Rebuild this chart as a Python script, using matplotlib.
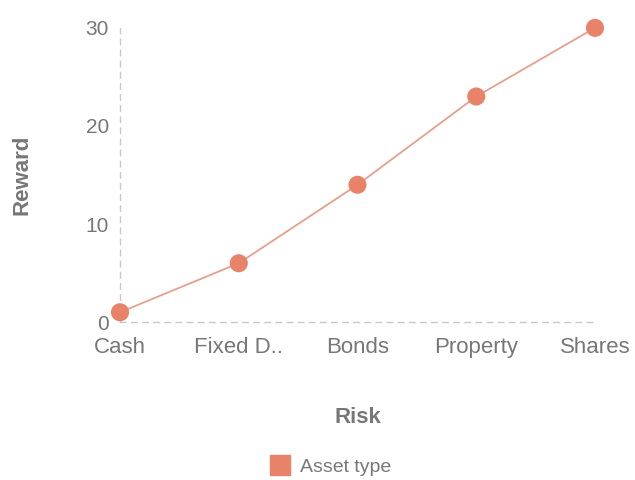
import matplotlib.pyplot as plt
from matplotlib.lines import Line2D

# Risk vs reward by asset type
assets = ['Cash', 'Fixed D..', 'Bonds', 'Property', 'Shares']
reward = [1, 6, 14, 23, 30]
y_ticks = [0, 10, 20, 30]

plt.rcParams['font.family'] = ['Liberation Sans', 'DejaVu Sans']
grey = '#777777'
line_col = '#e5a08c'
dot_col = '#e8836a'

fig = plt.figure(figsize=(6.35, 4.8), dpi=100)
ax = fig.add_axes([0.189, 0.329, 0.748, 0.613])

x = range(len(assets))
ax.plot(x, reward, color=line_col, lw=1.3, zorder=2, clip_on=False)
ax.scatter(x, reward, s=170, color=dot_col, zorder=3, clip_on=False, edgecolors='none')

ax.set_xlim(0, len(assets) - 1)
ax.set_ylim(0, 30)
ax.set_xticks(list(x))
ax.set_xticklabels(assets)
ax.set_yticks(y_ticks)

for s in ['top', 'right']:
    ax.spines[s].set_visible(False)
for s in ['left', 'bottom']:
    ax.spines[s].set_color('#c8c8c8')
    ax.spines[s].set_linestyle((0, (4, 4)))
    ax.spines[s].set_linewidth(1)

ax.tick_params(length=0, labelcolor=grey)
ax.tick_params(axis='y', labelsize=15, pad=8)
ax.tick_params(axis='x', labelsize=16, pad=11)

ax.set_ylabel('Reward', fontsize=16, fontweight='bold', color=grey, labelpad=38)
ax.set_xlabel('Risk', fontsize=16, fontweight='bold', color=grey, labelpad=35)

handle = Line2D([], [], marker='s', ls='none', markersize=15, color=dot_col)
fig.legend([handle], ['Asset type'], loc='center', bbox_to_anchor=(0.513, 0.027),
           frameon=False, fontsize=14, labelcolor=grey, handletextpad=0.0,
           borderpad=0.0)

fig.savefig('out.png', dpi=100)
